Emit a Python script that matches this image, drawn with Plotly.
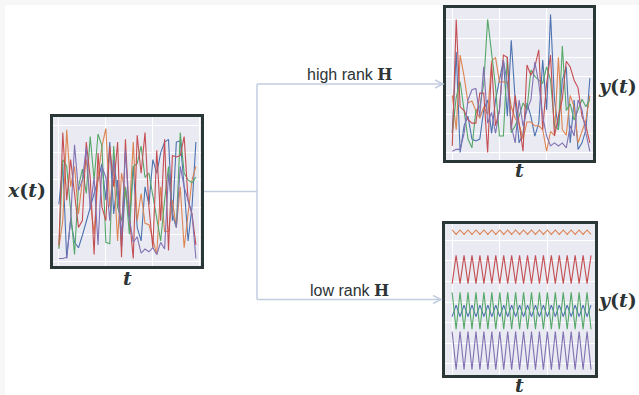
import plotly.graph_objects as go

W, H = 639, 395
COLORS = ["#4c72b0", "#dd8452", "#55a868", "#c44e52", "#8172b3"]
FRAME = "#2b3636"
TXT = "#2d3436"
CONN = "#c3cde0"

# ---------------- data ----------------
t_left = list(range(36))
x_blue = [0.42, 0.72, 0.02, 0.31, 0.14, 0.10, 0.19, 0.30, 0.40, 0.50, 0.60, 0.72, 0.45, 0.88, 0.35, 0.60, 0.10, 0.55,
          0.30, 0.70, 0.25, 0.15, 0.55, 0.42, 0.75, 0.65, 0.80, 0.88, 0.90, 0.30, 0.88, 0.89, 0.55, 0.15, 0.40, 0.88]
x_orange = [0.10, 0.30, 0.97, 0.55, 0.70, 0.35, 0.60, 0.75, 0.45, 0.20, 0.62, 0.85, 0.98, 0.40, 0.70, 0.15, 0.65, 0.50,
            0.35, 0.88, 0.30, 0.50, 0.28, 0.27, 0.15, 0.05, 0.55, 0.22, 0.22, 0.45, 0.25, 0.55, 0.10, 0.35, 0.60, 0.70]
x_green = [0.09, 0.75, 0.70, 0.40, 0.05, 0.55, 0.68, 0.50, 0.92, 0.60, 0.94, 0.85, 0.14, 0.13, 0.85, 0.40, 0.30, 0.55,
           0.20, 0.70, 0.72, 0.85, 0.62, 0.65, 0.48, 0.30, 0.15, 0.45, 0.70, 0.35, 0.25, 0.95, 0.65, 0.60, 0.58, 0.62]
x_red = [0.12, 0.95, 0.45, 0.75, 0.50, 0.25, 0.30, 0.88, 0.62, 0.05, 0.80, 0.40, 0.30, 0.85, 0.55, 0.88, 0.03, 0.90,
         0.33, 0.02, 0.93, 0.65, 0.95, 0.40, 0.10, 0.82, 0.30, 0.90, 0.08, 0.78, 0.77, 0.78, 0.92, 0.45, 0.35, 0.12]
x_purple = [0.02, 0.02, 0.03, 0.30, 0.86, 0.52, 0.60, 0.84, 0.38, 0.62, 0.12, 0.70, 0.62, 0.30, 0.75, 0.50, 0.19, 0.82,
            0.32, 0.14, 0.18, 0.06, 0.09, 0.07, 0.10, 0.05, 0.14, 0.09, 0.65, 0.35, 0.25, 0.70, 0.55, 0.45, 0.35, 0.02]

t_high = list(range(36))
hi_blue = [0.50, 2.64, 0.00, 0.70, 0.95, 0.35, 0.30, 0.35, 1.12, 1.38, 0.50, 1.38, 1.90, 2.43, 0.95, 2.95, 1.38, 0.25,
           0.50, 1.30, 0.95, 0.43, 0.77, 2.43, 1.12, 3.63, 1.38, 0.60, 1.90, 2.25, 0.25, 1.38, 0.08, 0.25, 0.60, 1.95]
hi_orange = [1.50, 0.60, 2.56, 2.00, 1.30, 1.35, 1.10, 0.90, 1.20, 1.00, 2.40, 2.50, 1.85, 1.86, 1.86, 1.20, 0.90, 0.75,
             0.35, 0.80, 0.80, 0.70, 0.70, 0.60, 0.03, 0.55, 0.45, 2.50, 0.60, 0.45, 1.50, 1.20, 0.25, 0.55, 0.85, 1.50]
hi_green = [0.50, 1.45, 1.86, 1.05, 0.35, 0.12, 1.10, 1.20, 1.80, 3.50, 2.56, 1.73, 0.43, 0.43, 2.50, 0.52, 0.70, 0.95,
            1.30, 1.12, 2.17, 2.00, 1.90, 1.82, 2.25, 1.90, 0.70, 0.60, 2.80, 1.10, 1.28, 0.85, 1.12, 1.40, 1.20, 1.40]
hi_red = [0.17, 3.50, 1.20, 1.10, 0.86, 0.77, 0.77, 1.56, 1.56, 0.00, 2.34, 0.70, 1.10, 2.56, 2.50, 0.60, 1.50, 0.70,
          0.03, 2.30, 2.03, 2.25, 2.70, 0.60, 1.82, 2.56, 0.43, 0.95, 1.40, 2.40, 2.25, 1.90, 1.70, 0.95, 0.70, 0.25]
hi_purple = [0.03, 0.08, 0.08, 0.50, 1.38, 1.65, 1.68, 0.95, 2.25, 0.77, 1.05, 0.50, 1.12, 2.43, 1.82, 0.70, 0.25, 1.38,
             0.70, 1.12, 1.38, 2.38, 1.82, 0.95, 0.43, 0.17, 0.25, 0.17, 0.25, 0.12, 0.70, 0.43, 1.38, 1.12, 0.50, 0.03]

t_low = list(range(36))
lo_blue = [2.29, 2.85, 2.29, 2.85, 2.29, 2.85, 2.29, 2.85, 2.29, 2.85, 2.29, 2.85, 2.29, 2.85, 2.29, 2.85, 2.29, 2.85,
           2.29, 2.85, 2.29, 2.85, 2.29, 2.85, 2.29, 2.85, 2.29, 2.85, 2.29, 2.85, 2.29, 2.85, 2.29, 2.85, 2.29, 2.85]
lo_orange = [6.51, 6.29, 6.51, 6.29, 6.51, 6.29, 6.51, 6.29, 6.51, 6.29, 6.51, 6.29, 6.51, 6.29, 6.51, 6.29, 6.51, 6.29,
             6.51, 6.29, 6.51, 6.29, 6.51, 6.29, 6.51, 6.29, 6.51, 6.29, 6.51, 6.29, 6.51, 6.29, 6.51, 6.29, 6.51, 6.29]
lo_green = [3.47, 1.68, 3.47, 1.68, 3.47, 1.68, 3.47, 1.68, 3.47, 1.68, 3.47, 1.68, 3.47, 1.68, 3.47, 1.68, 3.47, 1.68,
            3.47, 1.68, 3.47, 1.68, 3.47, 1.68, 3.47, 1.68, 3.47, 1.68, 3.47, 1.68, 3.47, 1.68, 3.47, 1.68, 3.47, 1.68]
lo_red = [3.90, 5.27, 3.90, 5.27, 3.90, 5.27, 3.90, 5.27, 3.90, 5.27, 3.90, 5.27, 3.90, 5.27, 3.90, 5.27, 3.90, 5.27,
          3.90, 5.27, 3.90, 5.27, 3.90, 5.27, 3.90, 5.27, 3.90, 5.27, 3.90, 5.27, 3.90, 5.27, 3.90, 5.27, 3.90, 5.27]
lo_purple = [1.56, -0.29, 1.56, -0.29, 1.56, -0.29, 1.56, -0.29, 1.56, -0.29, 1.56, -0.29, 1.56, -0.29, 1.56, -0.29,
             1.56, -0.29, 1.56, -0.29, 1.56, -0.29, 1.56, -0.29, 1.56, -0.29, 1.56, -0.29, 1.56, -0.29, 1.56, -0.29,
             1.56, -0.29, 1.56, -0.29]

panels = [
    ("x", "y", t_left, [x_blue, x_orange, x_green, x_red, x_purple]),
    ("x2", "y2", t_high, [hi_blue, hi_orange, hi_green, hi_red, hi_purple]),
    ("x3", "y3", t_low, [lo_blue, lo_orange, lo_green, lo_red, lo_purple]),
]

# ---------------- figure ----------------
def px(x):
    return x / W

def py(y):
    return 1 - y / H

fig = go.Figure()
for xa, ya, t, series in panels:
    for s, c in zip(series, COLORS):
        fig.add_trace(go.Scatter(x=t, y=s, mode="lines", line=dict(color=c, width=1.1),
                                 xaxis=xa, yaxis=ya, showlegend=False, hoverinfo="skip"))

def ax(domain, rng, dtick, anchor):
    return dict(domain=domain, range=rng, tick0=0, dtick=dtick, showgrid=True, gridcolor="white", gridwidth=1,
                showticklabels=False, ticks="", zeroline=False, showline=True, mirror=True,
                linecolor=FRAME, linewidth=2.5, fixedrange=True, anchor=anchor)

# frames (inner edges, px)
L = (53, 201, 117, 266)
TR = (446, 593, 8, 160)
BR = (445, 595, 224, 375)

fig.update_layout(
    width=W, height=H, margin=dict(l=0, r=0, t=0, b=0),
    paper_bgcolor="white", plot_bgcolor="#eaeaf2",
    xaxis=ax([px(L[0]), px(L[1])], [-1.5, 36.3], 12, "y"),
    yaxis=ax([py(L[3]), py(L[2])], [-0.035, 1.065], 0.2, "x"),
    xaxis2=ax([px(TR[0]), px(TR[1])], [-1.6, 35.8], 12, "y2"),
    yaxis2=ax([py(TR[3]), py(TR[2])], [-0.2, 3.8], 0.5, "x2"),
    xaxis3=ax([px(BR[0]), px(BR[1])], [-1.8, 36.0], 12, "y3"),
    yaxis3=ax([py(BR[3]), py(BR[2])], [-0.55, 6.8], 1, "x3"),
)

shapes = []
# light border strips
shapes.append(dict(type="rect", xref="paper", yref="paper", x0=0, x1=px(5), y0=0, y1=1,
                   fillcolor="#f7f7f7", line=dict(width=0), layer="below"))
shapes.append(dict(type="rect", xref="paper", yref="paper", x0=0, x1=1, y0=py(5), y1=1,
                   fillcolor="#f7f7f7", line=dict(width=0), layer="below"))
# connectors
def seg(x0, y0, x1, y1):
    shapes.append(dict(type="line", xref="paper", yref="paper", x0=px(x0), y0=py(y0), x1=px(x1), y1=py(y1),
                       line=dict(color=CONN, width=1.5)))

seg(204, 191.5, 257, 191.5)
seg(257, 84, 257, 299.5)
seg(257, 84, 443, 84)
seg(257, 299.5, 441, 299.5)
for tipx, tipy in [(443, 84), (441, 299.5)]:
    shapes.append(dict(type="path", xref="paper", yref="paper",
                       path=f"M {px(tipx-8)} {py(tipy-4)} L {px(tipx)} {py(tipy)} L {px(tipx-8)} {py(tipy+4)}",
                       line=dict(color=CONN, width=1.5)))
fig.update_layout(shapes=shapes)

SERIF = "DejaVu Serif"
ann = []
def text(x, y, s, size, family="Liberation Sans"):
    ann.append(dict(x=px(x), y=py(y), xref="paper", yref="paper", text=s, showarrow=False,
                    font=dict(family=family, size=size, color=TXT), xanchor="center", yanchor="middle"))

text(26, 190, "<b><i>x</i>(<i>t</i>)</b>", 19, SERIF)
text(127, 278, "<b><i>t</i></b>", 19, SERIF)
text(519, 170, "<b><i>t</i></b>", 19, SERIF)
text(519, 385, "<b><i>t</i></b>", 19, SERIF)
text(617, 86, "<b><i>y</i>(<i>t</i>)</b>", 19, SERIF)
text(617, 300, "<b><i>y</i>(<i>t</i>)</b>", 19, SERIF)
text(349, 74, "high rank <span style=\"font-family:'DejaVu Serif'\"><b>H</b></span>", 16)
text(349, 290, "low rank <span style=\"font-family:'DejaVu Serif'\"><b>H</b></span>", 16)
fig.update_layout(annotations=ann)

fig.write_html("out.html", config={"displayModeBar": False},
               post_script="document.body.style.margin='0px';document.body.style.padding='0px';")
